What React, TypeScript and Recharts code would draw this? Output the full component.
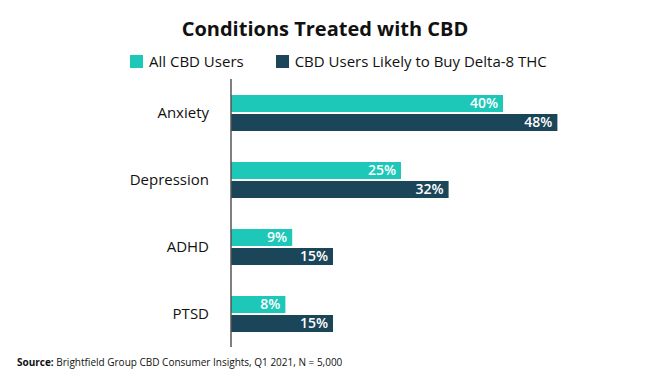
import React from "react";
import { BarChart, Bar, XAxis, YAxis, LabelList } from "recharts";

const conditions = ["Anxiety", "Depression", "ADHD", "PTSD"];
const allUsers = [40, 25, 9, 8];
const delta8Users = [48, 32, 15, 15];
const seriesNames = ["All CBD Users", "CBD Users Likely to Buy Delta-8 THC"];
const colors = ["#1ec8b8", "#1b4558"];

const data = conditions.map((c, i) => ({
  name: c,
  all: allUsers[i],
  delta: delta8Users[i],
}));

const FONT = "'Open Sans', sans-serif";

export default function App() {
  return (
    <div
      style={{
        position: "absolute",
        left: 0,
        top: 0,
        width: 650,
        height: 383,
        background: "#fff",
        fontFamily: FONT,
        color: "#111",
      }}
    >
      <div
        style={{
          position: "absolute",
          top: 16,
          left: 0,
          width: 650,
          textAlign: "center",
          fontSize: 20,
          fontWeight: 700,
          lineHeight: "26px",
        }}
      >
        Conditions Treated with CBD
      </div>
      <div
        style={{
          position: "absolute",
          top: 51,
          left: 130,
          display: "flex",
          alignItems: "center",
          fontSize: 15,
          lineHeight: "20px",
        }}
      >
        {seriesNames.map((n, i) => (
          <div key={n} style={{ display: "flex", alignItems: "center", marginRight: i === 0 ? 32 : 0 }}>
            <span style={{ display: "inline-block", width: 13, height: 13, background: colors[i], marginRight: 6 }} />
            <span>{n}</span>
          </div>
        ))}
      </div>
      <BarChart
        width={650}
        height={383}
        data={data}
        layout="vertical"
        margin={{ top: 79, right: 79, bottom: 36, left: 0 }}
        barSize={17}
        barGap={2}
      >
        <XAxis type="number" domain={[0, 50]} hide />
        <YAxis
          type="category"
          dataKey="name"
          width={231}
          tickLine={false}
          tickMargin={16}
          axisLine={{ stroke: "#555", strokeWidth: 1.5 }}
          tick={{ fill: "#111", fontSize: 15, fontFamily: FONT }}
        />
        <Bar dataKey="all" name={seriesNames[0]} fill={colors[0]} isAnimationActive={false}>
          <LabelList
            dataKey="all"
            position="insideRight"
            offset={5}
            formatter={(v: any) => `${v}%`}
            style={{ fill: "#fff", fontSize: 14, fontWeight: 600, fontFamily: FONT }}
          />
        </Bar>
        <Bar dataKey="delta" name={seriesNames[1]} fill={colors[1]} isAnimationActive={false}>
          <LabelList
            dataKey="delta"
            position="insideRight"
            offset={5}
            formatter={(v: any) => `${v}%`}
            style={{ fill: "#fff", fontSize: 14, fontWeight: 600, fontFamily: FONT }}
          />
        </Bar>
      </BarChart>
      <div
        style={{
          position: "absolute",
          top: 355,
          left: 17,
          fontSize: 10,
          lineHeight: "14px",
        }}
      >
        <b>Source:</b> Brightfield Group CBD Consumer Insights, Q1 2021, N = 5,000
      </div>
    </div>
  );
}
